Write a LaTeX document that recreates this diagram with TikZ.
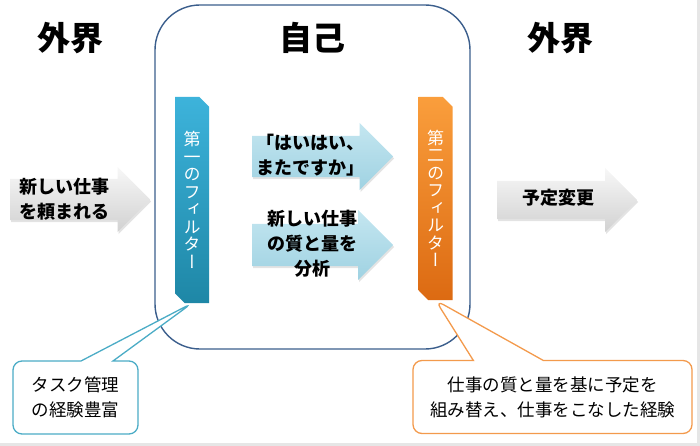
\documentclass[tikz,border=0pt]{standalone}
\usepackage{fontspec}
\setmainfont{Noto Sans CJK JP}
\newfontfamily\vertjp[RawFeature=+vert]{Noto Sans CJK JP}
\usetikzlibrary{shapes.misc,shapes.arrows,shapes.callouts,shadows,positioning}
\definecolor{SelfBlue}{HTML}{3B5E8C}
\definecolor{FirstTeal}{HTML}{3DB3DB}
\definecolor{FirstTealDark}{HTML}{1E87A6}
\definecolor{SecondOrange}{HTML}{FA9E3C}
\definecolor{SecondOrangeDark}{HTML}{DC6A12}
\definecolor{FlowBlueLight}{HTML}{C4E6F0}
\definecolor{FlowBlue}{HTML}{9FD2E2}
\definecolor{CalloutTeal}{HTML}{4BACC6}
\definecolor{CalloutOrange}{HTML}{F39A4C}
\definecolor{FrameGray}{HTML}{E6E6E6}
\tikzset{
  selfbox/.style={draw=SelfBlue,line width=1.4pt,rounded corners=45pt,minimum width=315pt,minimum height=344pt,inner sep=0pt},
  realm/.style={font=\fontsize{33}{36}\selectfont\bfseries,inner sep=0pt},
  filterbar/.style={chamfered rectangle,chamfered rectangle corners={north east,south west},chamfered rectangle xsep=6pt,
    minimum width=34pt,inner sep=0pt,text=white,align=center,font=\vertjp\fontsize{17}{17.5}\selectfont},
  firstrole/.style={filterbar,top color=FirstTeal,bottom color=FirstTealDark},
  secondrole/.style={filterbar,top color=SecondOrange,bottom color=SecondOrangeDark},
  arrowbox/.style={single arrow,single arrow head extend=13pt,single arrow head indent=0pt,inner sep=0pt,anchor=tail,
    minimum height=141pt,drop shadow={opacity=.22,shadow xshift=1pt,shadow yshift=-2pt}},
  flow/.style={arrowbox,top color=FlowBlueLight,bottom color=FlowBlue},
  outer/.style={arrowbox,top color=black!3,bottom color=black!18},
  flowtext/.style={font=\fontsize{18}{25}\selectfont\bfseries,align=center,inner sep=0pt},
  note/.style={rectangle callout,fill=white,line width=1.3pt,rounded corners=9pt,align=center,
    minimum height=73pt,font=\fontsize{17.5}{25}\selectfont}
}
\begin{document}
\begin{tikzpicture}[x=1pt,y=-1pt]
  \useasboundingbox (0,0) rectangle (700,446);
  \draw[FrameGray,line width=3pt] (0,444.5) -- (698.5,444.5) -- (698.5,0);
  \node[selfbox] (self) at (312.5,177) {};
  \foreach \x/\name/\title in {70/outerleft/外界,312/selftitle/自己,560/outerright/外界}{
    \node[realm] (\name) at (\x,38) {\title};
  }
  \node[outer,text height=20.5pt,text depth=20.5pt,single arrow head extend=12pt,minimum height=140pt] (request) at (10,199.5) {};
  \node[flowtext] (requesttext) at (64,199) {新しい仕事\\を頼まれる};
  \node[firstrole,minimum height=206pt] (first) at (192,200)
    {第\\一\\の\\フ\\ィ\\ル\\タ\\ー};
  \node[flow,text height=20.5pt,text depth=20.5pt] (reply) at (252,156.5) {};
  \node[flowtext] (replytext) at (310,155) {「はいはい、\\またですか」};
  \node[flow,text height=21pt,text depth=21pt,single arrow head extend=14pt] (analysis) at (252,245) {};
  \node[flowtext] (analysistext) at (312,244) {新しい仕事\\の質と量を\\分析};
  \node[secondrole,minimum height=203pt] (second) at (435.5,198.5)
    {第\\二\\の\\フ\\ィ\\ル\\タ\\ー};
  \node[outer,text height=19pt,text depth=19pt,minimum height=140pt] (change) at (497,200) {};
  \node[flowtext] (changetext) at (558,198) {予定変更};
  \node[note,draw=CalloutTeal,minimum width=125pt,callout pointer width=32pt,
    callout absolute pointer={(first.south)}] (skill) at (75.5,397.5) {タスク管理\\の経験豊富};
  \node[note,draw=CalloutOrange,minimum width=279pt,callout pointer width=70pt,
    callout absolute pointer={(second.south)}] (experience) at (552.5,397)
    {仕事の質と量を基に予定を\\組み替え、仕事をこなした経験};
\end{tikzpicture}
\end{document}
